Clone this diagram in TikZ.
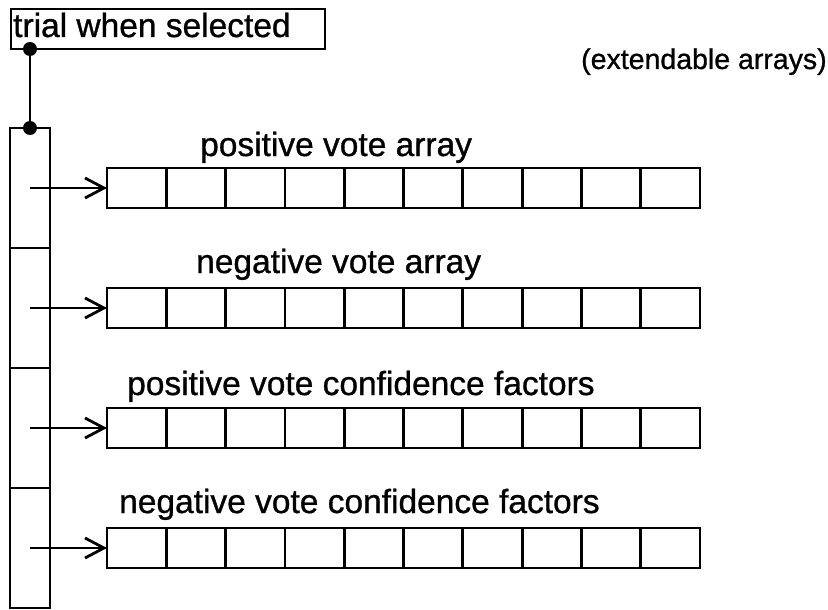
\documentclass[tikz,border=0pt]{standalone}
\usepackage{fontspec}
\setmainfont{Liberation Sans}[FakeBold=0.9]
\usetikzlibrary{arrows.meta}

\tikzset{
  ink/.style={line width=2.8pt, draw=black},
  cell/.style={ink, rectangle, inner sep=0pt, outer sep=0pt,
               minimum width=59.3pt, minimum height=40pt},
  slot/.style={ink, rectangle, inner sep=0pt, outer sep=0pt,
               minimum width=40pt, minimum height=120pt},
  caption/.style={anchor=base west, inner sep=0pt,
                  font=\fontsize{33.5}{40}\selectfont},
  note/.style={anchor=base west, inner sep=0pt,
               font=\fontsize{28.5}{34}\selectfont},
  pointer/.style={ink, -{Straight Barb[length=19pt, width=20pt, line width=2.8pt]}},
  joint/.style={circle, fill=black, inner sep=0pt, minimum size=14pt}
}

\begin{document}
\begin{tikzpicture}[x=1pt, y=-1pt]
  \useasboundingbox (0,0) rectangle (828,610);

  % header record
  \node[ink, line width=2.2pt, rectangle, inner sep=0pt, outer sep=0pt, anchor=north west,
        minimum width=314pt, minimum height=40pt] (trial) at (11,9) {};
  \node[caption] (trialtext) at (13,37) {trial when selected};

  \node[note] (ext) at (581,69) {(extendable arrays)};

  % vertical column of four slots
  \foreach \r in {0,1,2,3}
    \node[slot] (slot\r) at (30,{188+120*\r}) {};

  % link from the header record to the column
  \coordinate (hdot) at (30,49);
  \coordinate (cdot) at (30,128);
  \draw[ink] (hdot) -- (cdot);
  \node[joint] at (hdot) {};
  \node[joint] at (cdot) {};

  % four extendable arrays of ten cells
  \foreach \r in {0,1,2,3}
    \foreach \c in {0,...,9}
      \node[cell] (a\r-\c) at ({107+59.3*\c+29.65},{188+120*\r}) {};

  % pointers from the slots to the arrays
  \foreach \r in {0,1,2,3}
    \draw[pointer] (slot\r.center) -- (a\r-0.west);

  % array titles
  \node[caption] (t0) at (200,156) {positive vote array};
  \node[caption] (t1) at (196,273) {negative vote array};
  \node[caption] (t2) at (127,395) {positive vote confidence factors};
  \node[caption] (t3) at (119,513) {negative vote confidence factors};
\end{tikzpicture}
\end{document}
